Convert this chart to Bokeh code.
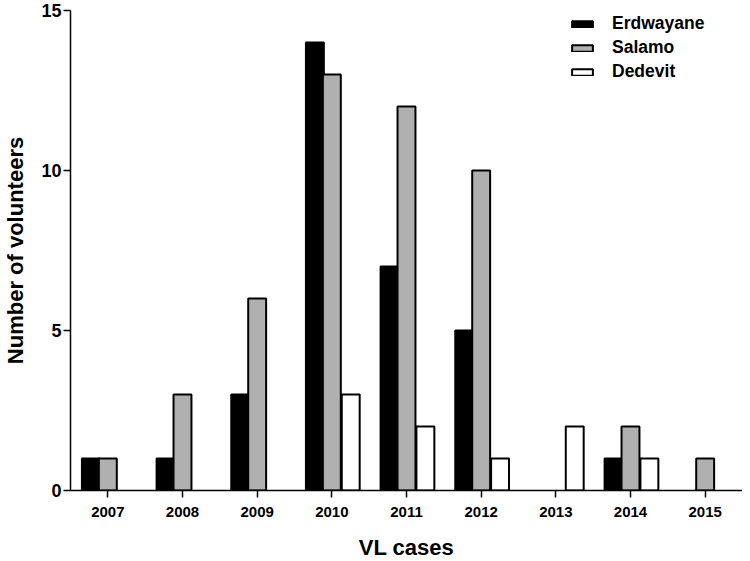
from bokeh.plotting import figure
from bokeh.models import FactorRange, ColumnDataSource, Legend, LegendItem, FixedTicker, Range1d
from bokeh.transform import dodge
from bokeh.embed import file_html
from bokeh.resources import INLINE

years = ["2007", "2008", "2009", "2010", "2011", "2012", "2013", "2014", "2015"]
erdwayane = [1, 1, 3, 14, 7, 5, 0, 1, 0]
salamo = [1, 3, 6, 13, 12, 10, 0, 2, 1]
dedevit = [0, 0, 0, 3, 2, 1, 2, 1, 0]

series = [
    ("Erdwayane", erdwayane, "#000000", -0.227),
    ("Salamo", salamo, "#B0B0B0", 0.0),
    ("Dedevit", dedevit, "#FFFFFF", 0.253),
]

FONT = "Liberation Sans"

p = figure(
    x_range=FactorRange(*years, range_padding=0),
    y_range=Range1d(0, 15),
    frame_width=672, frame_height=480,
    output_backend="svg", toolbar_location=None,
    min_border_left=62, min_border_right=0, min_border_top=10, min_border_bottom=40,
)
p.outline_line_color = None
p.grid.grid_line_color = None

items = []
for name, vals, color, off in series:
    xs = [y for y, v in zip(years, vals) if v > 0]
    vs = [v for v in vals if v > 0]
    src = ColumnDataSource(dict(x=xs, top=vs))
    r = p.vbar(x=dodge("x", off, range=p.x_range), top="top", bottom=0, width=0.24,
               source=src, fill_color=color, line_color="black", line_width=2)
    items.append(LegendItem(label=name, renderers=[r]))

legend = Legend(items=items, location=(499, 408), padding=0, margin=0,
                border_line_color=None, background_fill_alpha=0,
                glyph_width=26, glyph_height=8, label_standoff=17, spacing=3,
                label_text_font=FONT, label_text_font_style="bold",
                label_text_color="black",
                label_text_font_size="17.5px", label_height=20)
p.add_layout(legend, "center")

p.yaxis.ticker = FixedTicker(ticks=[0, 5, 10, 15])
for ax in (p.xaxis, p.yaxis):
    ax.axis_line_color = "black"
    ax.axis_line_width = 1.5
    ax.major_tick_line_color = "black"
    ax.major_tick_line_width = 1.5
    ax.major_tick_out = 7
    ax.major_tick_in = 0
    ax.minor_tick_line_color = None
    ax.major_label_text_font = FONT
    ax.major_label_text_font_style = "bold"
    ax.major_label_text_color = "black"
    ax.axis_label_text_font = FONT
    ax.axis_label_text_font_style = "bold"
    ax.axis_label_text_color = "black"

p.yaxis.major_label_text_font_size = "18px"
p.yaxis.major_label_standoff = 2
p.xaxis.major_label_text_font_size = "15px"
p.xaxis.major_label_standoff = 9
p.xaxis.axis_label = "VL cases"
p.xaxis.axis_label_text_font_size = "22px"
p.xaxis.axis_label_standoff = 15
p.yaxis.axis_label = "Number of volunteers"
p.yaxis.axis_label_text_font_size = "22px"
p.yaxis.axis_label_standoff = 10

open("out.html", "w").write(file_html(p, INLINE))
